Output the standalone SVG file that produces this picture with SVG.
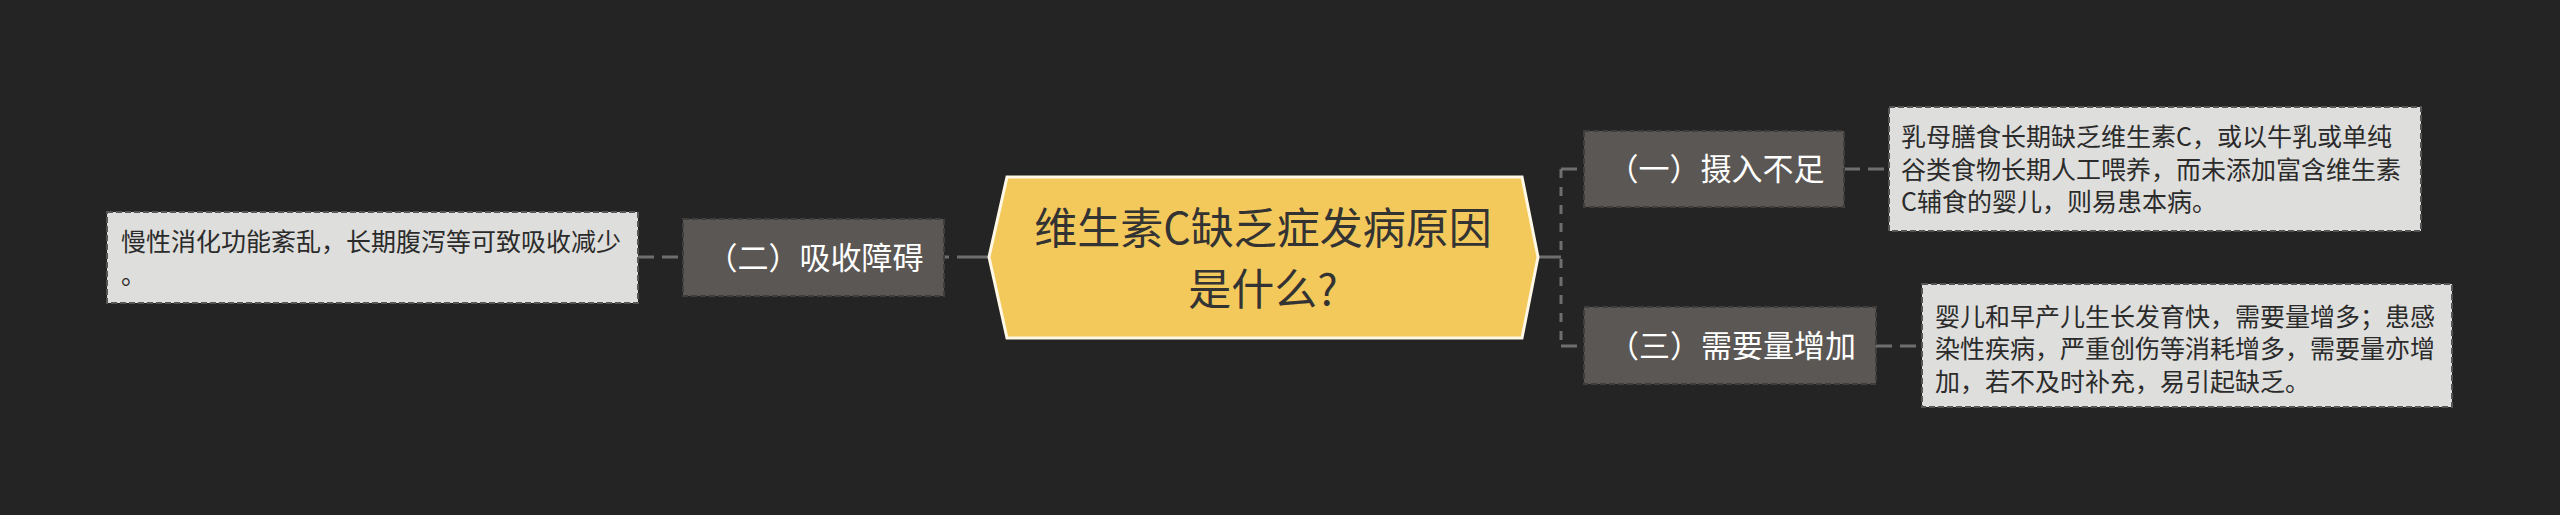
<svg xmlns="http://www.w3.org/2000/svg" width="2560" height="515" viewBox="0 0 2560 515">
<style>
.bg{fill:#242424}
.conn{fill:none;stroke:#6e6e6e;stroke-width:3}
.dash{stroke-dasharray:16 8}
.vdash{stroke-dasharray:9 9}
.child{fill:#5b5754;stroke:#403e3c;stroke-width:2;stroke-dasharray:6 3}
.leaf{fill:#dededc;stroke:#555;stroke-width:2;stroke-dasharray:6 3}
.ct{font-family:"Noto Sans CJK SC","Noto Sans",sans-serif;font-size:31px;fill:#fff;text-anchor:middle}
.lt{font-family:"Noto Sans CJK SC","Noto Sans",sans-serif;font-size:25px;fill:#2b2b2b}
.root{fill:#f3c95b;stroke:#fff8e6;stroke-width:3}
.rt{font-family:"Noto Sans CJK SC","Noto Sans",sans-serif;font-size:43px;fill:#333;text-anchor:middle}
</style>
<rect class="bg" x="0" y="0" width="2560" height="515"/>
<g id="connectors">
<path class="conn" d="M944 257 H989" stroke-dasharray="5 8 32 0"/>
<path class="conn dash" d="M638 257 H683"/>
<path class="conn" d="M1538 257 H1561"/>
<path class="conn vdash" d="M1561 169 V346"/>
<path class="conn dash" d="M1561 169 H1584"/>
<path class="conn dash" d="M1561 346 H1584"/>
<path class="conn dash" d="M1844 169 H1889"/>
<path class="conn dash" d="M1876 346 H1922"/>
</g>
<g id="root">
<polygon class="root" points="1007,177 1522,177 1538,257 1522,338 1007,338 989,257"/>
<text class="rt" x="1263" y="244">维生素C缺乏症发病原因</text>
<text class="rt" x="1263" y="305">是什么?</text>
</g>
<g id="node-2">
<rect class="child" x="683" y="219" width="261" height="77"/>
<text class="ct" x="815" y="268.5">（二）吸收障碍</text>
</g>
<g id="leaf-2">
<rect class="leaf" x="107" y="212" width="531" height="91"/>
<text class="lt" x="121" y="251">慢性消化功能紊乱，长期腹泻等可致吸收减少</text>
<text class="lt" x="121" y="284">。</text>
</g>
<g id="node-1">
<rect class="child" x="1584" y="131" width="260" height="76"/>
<text class="ct" x="1716" y="180">（一）摄入不足</text>
</g>
<g id="leaf-1">
<rect class="leaf" x="1889" y="107" width="532" height="124"/>
<text class="lt" x="1901" y="146">乳母膳食长期缺乏维生素C，或以牛乳或单纯</text>
<text class="lt" x="1901" y="179">谷类食物长期人工喂养，而未添加富含维生素</text>
<text class="lt" x="1901" y="211">C辅食的婴儿，则易患本病。</text>
</g>
<g id="node-3">
<rect class="child" x="1584" y="307" width="292" height="77"/>
<text class="ct" x="1732" y="357">（三）需要量增加</text>
</g>
<g id="leaf-3">
<rect class="leaf" x="1922" y="284" width="530" height="123"/>
<text class="lt" x="1935" y="326">婴儿和早产儿生长发育快，需要量增多；患感</text>
<text class="lt" x="1935" y="358">染性疾病，严重创伤等消耗增多，需要量亦增</text>
<text class="lt" x="1935" y="391">加，若不及时补充，易引起缺乏。</text>
</g>
</svg>
